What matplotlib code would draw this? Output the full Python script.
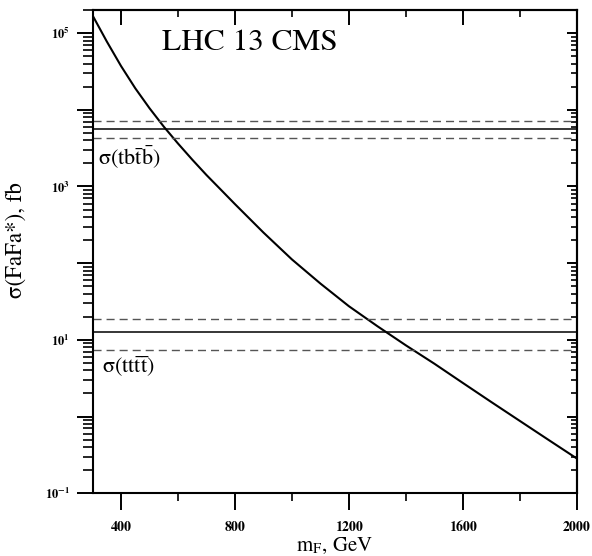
import numpy as np
import matplotlib
matplotlib.use("Agg")
import matplotlib.pyplot as plt
from matplotlib.ticker import LogLocator, FuncFormatter, NullFormatter, FixedLocator

plt.rcParams["font.family"] = "STIXGeneral"
plt.rcParams["mathtext.fontset"] = "stix"

# cross section of the heavy fermion pair vs its mass
mass = [300, 350, 400, 450, 500, 550, 600, 650, 700, 750, 800, 900, 1000,
        1100, 1200, 1300, 1400, 1500, 1600, 1700, 1800, 1900, 2000]
sigma = [169800, 77600, 37150, 19050, 10470, 6030, 3630, 2240, 1410, 912,
         589, 251, 112, 54.3, 27.5, 15.1, 8.5, 4.9, 2.75, 1.55, 0.88, 0.50, 0.285]

# measured cross sections: central, upper, lower (fb)
tbtb = [5600, 7250, 4280]
tttt = [12.6, 18.6, 7.4]

fig = plt.figure(figsize=(5.92, 5.56), dpi=100)
ax = fig.add_axes([0.1564, 0.1128, 0.8177, 0.8692])

ax.plot(mass, sigma, c="black", lw=1.5)

for meas in [tbtb, tttt]:
    ax.axhline(meas[0], c="black", lw=1.1)
    ax.axhline(meas[1], c="#555555", lw=1.0, ls=(0, (5.8, 3.6)))
    ax.axhline(meas[2], c="#555555", lw=1.0, ls=(0, (5.8, 3.6)))

ax.set_yscale("log")
ax.set_xlim(300, 2000)
ax.set_ylim(0.1, 2.0e5)

# ticks: bottom/left outward, top/right inward
xmaj = [400, 800, 1200, 1600, 2000]
xmin = [600, 1000, 1400, 1800]
ax.xaxis.set_major_locator(FixedLocator(xmaj))
ax.xaxis.set_minor_locator(FixedLocator(xmin))
ax.yaxis.set_major_locator(LogLocator(base=10, numticks=20))
ax.yaxis.set_minor_locator(LogLocator(base=10, subs=np.arange(2, 10), numticks=20))


def ylab(v, pos):
    e = int(round(np.log10(v)))
    if e % 2 == 1 or e == -1:
        return r"$\mathbf{10^{%d}}$" % e
    return ""


ax.yaxis.set_major_formatter(FuncFormatter(ylab))
ax.yaxis.set_minor_formatter(NullFormatter())

ax.tick_params(axis="x", which="major", direction="out", length=12, width=1.4,
               pad=8, labelsize=10, top=False)
ax.tick_params(axis="x", which="minor", direction="out", length=6, width=1.2, top=False)
ax.tick_params(axis="y", which="major", direction="out", length=11.5, width=1.4,
               pad=5, labelsize=9, right=False)
ax.tick_params(axis="y", which="minor", direction="out", length=7, width=1.2, right=False)
for lab in ax.get_xticklabels():
    lab.set_fontweight("bold")

top = ax.secondary_xaxis("top")
top.xaxis.set_major_locator(FixedLocator(xmaj))
top.xaxis.set_minor_locator(FixedLocator(xmin))
top.xaxis.set_major_formatter(NullFormatter())
top.tick_params(which="major", direction="in", length=11, width=1.4)
top.tick_params(which="minor", direction="in", length=5, width=1.2)

right = ax.secondary_yaxis("right")
right.set_yscale("log")
right.yaxis.set_major_locator(LogLocator(base=10, numticks=20))
right.yaxis.set_minor_locator(LogLocator(base=10, subs=np.arange(2, 10), numticks=20))
right.yaxis.set_major_formatter(NullFormatter())
right.yaxis.set_minor_formatter(NullFormatter())
right.tick_params(which="major", direction="in", length=7, width=1.4)
right.tick_params(which="minor", direction="in", length=4, width=1.2)

for sp in list(ax.spines.values()) + list(top.spines.values()) + list(right.spines.values()):
    sp.set_linewidth(1.5)

ax.text(0.325, 0.932, "LHC 13 CMS", transform=ax.transAxes, fontsize=22.5,
        ha="center", va="center")
ax.text(0.011, 0.696, "σ" + r"$\mathrm{(tb\bar{t}\bar{b})}$", transform=ax.transAxes,
        fontsize=16, ha="left", va="center")
ax.text(0.0195, 0.261, "σ" + r"$\mathrm{(tt\bar{t}\bar{t})}$", transform=ax.transAxes,
        fontsize=16, ha="left", va="center")

ax.set_xlabel(r"m$_\mathrm{F}$, GeV", fontsize=15)
ax.xaxis.set_label_coords(0.5, -0.088)
ax.set_ylabel("σ(FaFa*), fb", fontsize=16.5)
ax.yaxis.set_label_coords(-0.136, 0.524)

fig.savefig("out.png", dpi=100)
